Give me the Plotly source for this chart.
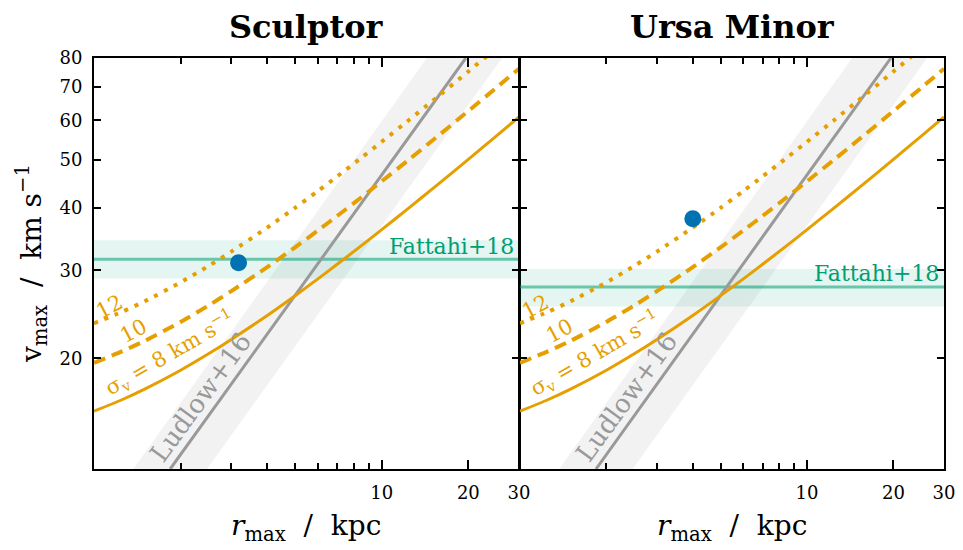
import math
import plotly.graph_objects as go

# ---- data -------------------------------------------------------------
galaxies = ["Sculptor", "Ursa Minor"]

# r_max grid (kpc) and v_max (km/s) for three velocity dispersions
r_grid = [1.0, 1.25, 1.5, 2.0, 2.5, 3.0, 4.0, 5.0, 6.0, 7.0, 8.5, 10.0, 12.5, 15.0, 20.0, 25.0, 30.0]
vmax_sig8 = [15.67, 16.52, 17.35, 18.93, 20.42, 21.82, 24.38, 26.71, 28.86, 30.87, 33.65,
             36.23, 40.15, 43.72, 50.11, 55.77, 60.93]
vmax_sig10 = [19.59, 20.65, 21.68, 23.66, 25.52, 27.27, 30.47, 33.39, 36.08, 38.58, 42.07,
              45.28, 50.18, 54.66, 62.64, 69.72, 76.16]
vmax_sig12 = [23.51, 24.78, 26.02, 28.40, 30.63, 32.73, 36.57, 40.07, 43.30, 46.30, 50.48,
              54.34, 60.22, 65.59, 75.17, 83.66, 91.40]

# Ludlow+16 relation and its scatter band (edges at the same v_max)
ludlow_v = [12.0, 80.0]
ludlow_r = [1.84, 19.6]
ludlow_hi_r = [1.37, 14.35]
ludlow_lo_r = [2.47, 26.2]

# Fattahi+18 v_max estimates per galaxy, with 1-sigma range
fattahi_v = [31.6, 27.8]
fattahi_lo = [28.9, 25.4]
fattahi_hi = [34.5, 30.2]

# observed (r_max, v_max) per galaxy
obs_rmax = [3.18, 4.0]
obs_vmax = [31.1, 38.1]

x_tickvals = [10, 20, 30]
x_minorvals = [2, 3, 4, 5, 6, 7, 8, 9]
y_tickvals = [20, 30, 40, 50, 60, 70, 80]
X_RANGE = (1.0, 30.0)
Y_RANGE = (12.0, 80.0)

# ---- style ------------------------------------------------------------
FONT = "DejaVu Serif"
ORANGE = "#E69F00"
GREEN = "#009E73"
BLUE = "#0072B2"
W, H = 963, 550
x_domains = [(94 / W, 519 / W), (520 / W, 944 / W)]
y_domain = (1 - 469 / H, 1 - 58 / H)

fig = go.Figure()
lg = math.log10

for i, name in enumerate(galaxies):
    xa = "x" if i == 0 else "x2"
    ya = "y" if i == 0 else "y2"
    common = dict(xaxis=xa, yaxis=ya, showlegend=False, hoverinfo="skip")

    # Ludlow band
    fig.add_trace(go.Scatter(
        x=ludlow_hi_r + ludlow_lo_r[::-1], y=ludlow_v + ludlow_v[::-1],
        fill="toself", fillcolor="rgba(128,128,128,0.10)", mode="lines",
        line=dict(width=0), **common))
    # Fattahi band and line
    fig.add_trace(go.Scatter(
        x=[X_RANGE[0], X_RANGE[1], X_RANGE[1], X_RANGE[0]],
        y=[fattahi_lo[i], fattahi_lo[i], fattahi_hi[i], fattahi_hi[i]],
        fill="toself", fillcolor="rgba(0,158,115,0.10)", mode="lines",
        line=dict(width=0), **common))
    fig.add_trace(go.Scatter(
        x=list(X_RANGE), y=[fattahi_v[i], fattahi_v[i]], mode="lines",
        line=dict(color="rgba(0,158,115,0.55)", width=3), **common))
    # Ludlow line
    fig.add_trace(go.Scatter(
        x=ludlow_r, y=ludlow_v, mode="lines",
        line=dict(color="#999999", width=3), **common))
    # sigma curves
    fig.add_trace(go.Scatter(
        x=r_grid, y=vmax_sig8, mode="lines", line=dict(color=ORANGE, width=3,
        shape="spline", smoothing=0.6), **common))
    fig.add_trace(go.Scatter(
        x=r_grid, y=vmax_sig10, mode="lines", line=dict(color=ORANGE, width=4,
        dash="12px,7px", shape="spline", smoothing=0.6), **common))
    fig.add_trace(go.Scatter(
        x=r_grid, y=vmax_sig12, mode="lines", line=dict(color=ORANGE, width=4,
        dash="4px,7px", shape="spline", smoothing=0.6), **common))
    # observed point
    fig.add_trace(go.Scatter(
        x=[obs_rmax[i]], y=[obs_vmax[i]], mode="markers",
        marker=dict(color=BLUE, size=17, line=dict(width=0)), **common))

axis_common = dict(
    type="log", showgrid=False, zeroline=False, showline=True, automargin=False,
    linecolor="black", linewidth=2, mirror="allticks", ticks="inside",
    tickcolor="black", tickwidth=2,
    tickfont=dict(family=FONT, size=18, color="black"),
)

layout_axes = {}
for i in range(2):
    xkey = "xaxis" if i == 0 else "xaxis2"
    ykey = "yaxis" if i == 0 else "yaxis2"
    layout_axes[xkey] = dict(
        axis_common, domain=x_domains[i], anchor="y" if i == 0 else "y2",
        range=[lg(X_RANGE[0]), lg(X_RANGE[1])],
        tickvals=x_tickvals, ticktext=[str(v) for v in x_tickvals], ticklen=9,
        ticklabelstandoff=6,
        minor=dict(tickmode="array", tickvals=x_minorvals, ticks="inside",
                   ticklen=6, tickcolor="black", tickwidth=2),
    )
    layout_axes[ykey] = dict(
        axis_common, domain=y_domain, anchor="x" if i == 0 else "x2",
        range=[lg(Y_RANGE[0]), lg(Y_RANGE[1])],
        tickvals=y_tickvals, ticktext=[str(v) for v in y_tickvals], ticklen=7,
        showticklabels=(i == 0), ticklabelstandoff=6,
    )

annotations = []
for i, name in enumerate(galaxies):
    xa = "x" if i == 0 else "x2"
    ya = "y" if i == 0 else "y2"
    xc = (x_domains[i][0] + x_domains[i][1]) / 2
    # panel title
    annotations.append(dict(
        text=f"<b>{name}</b>", xref="paper", yref="paper", x=xc, y=1 - 27 / H,
        showarrow=False, xanchor="center", yanchor="middle",
        font=dict(family=FONT, size=32, color="black")))
    # x-axis title
    annotations.append(dict(
        text="<i>r</i><sub>max</sub>  /  kpc", xref="paper", yref="paper",
        x=xc, y=1 - 527 / H, showarrow=False, xanchor="center", yanchor="middle",
        font=dict(family=FONT, size=28, color="black")))
    # curve labels
    labels = [
        ("12", 1.128, 25.4, -28, ORANGE, 21),
        ("10", 1.37, 22.7, -28, ORANGE, 21),
        ("σ<sub>v</sub> = 8 km s<sup>−1</sup>", 1.825, 20.5, -30, ORANGE, 21),
        ("Ludlow+16", 2.354, 16.7, -54, "#999999", 26),
    ]
    for txt, lx, ly, ang, col, fs in labels:
        annotations.append(dict(
            text=txt, xref=xa, yref=ya, x=lg(lx), y=lg(ly), textangle=ang,
            showarrow=False, xanchor="center", yanchor="middle",
            font=dict(family=FONT, size=fs, color=col)))
    annotations.append(dict(
        text="Fattahi+18", xref=xa, yref=ya, x=lg(29.3), y=lg(fattahi_v[i] * 1.062),
        showarrow=False, xanchor="right", yanchor="middle",
        font=dict(family=FONT, size=22, color=GREEN)))

# y-axis title
annotations.append(dict(
    text="v<sub>max</sub>  /  km s<sup>−1</sup>", xref="paper", yref="paper",
    x=31 / W, y=1 - 264 / H, textangle=-90, showarrow=False,
    xanchor="center", yanchor="middle",
    font=dict(family=FONT, size=28, color="black")))

fig.update_layout(
    template="none",
    width=W, height=H, margin=dict(l=0, r=0, t=0, b=0, autoexpand=False),
    paper_bgcolor="white", plot_bgcolor="white",
    annotations=annotations, **layout_axes,
)

fig.write_html("out.html")
